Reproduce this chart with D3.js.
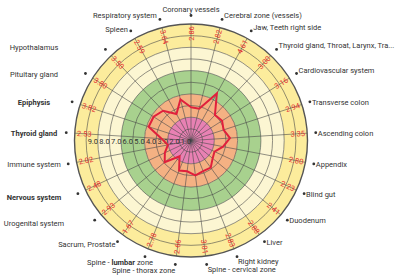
<!DOCTYPE html>
<html><head><meta charset="utf-8">
<script src="https://cdn.jsdelivr.net/npm/d3@7"></script>
<style>html,body{margin:0;padding:0;background:#fff;}svg{display:block;font-family:Roboto,"Noto Sans",sans-serif;}</style>
</head><body>
<svg id="c" width="400" height="280"></svg>
<script>
const categories = ["Coronary vessels","Cerebral zone (vessels)","Jaw, Teeth right side","Thyroid gland, Throat, Larynx, Tra...","Cardiovascular system","Transverse colon","Ascending colon","Appendix","Blind gut","Duodenum","Liver","Right kidney","Spine - cervical zone","Spine - thorax zone","Spine - lumbar zone","Sacrum, Prostate","Urogenital system","Nervous system","Immune system","Thyroid gland","Epiphysis","Pituitary gland","Hypothalamus","Spleen","Respiratory system"];
const values = [2.86,2.82,4.61,3.00,3.16,2.94,3.35,2.80,2.23,2.41,2.88,2.83,3.01,2.66,2.78,1.67,2.93,2.48,2.02,2.53,3.82,3.80,3.50,2.59,3.64];
const boldParts = ["","","","","","","","","","","","","","","lumbar","","","Nervous system","","Thyroid gland","Epiphysis","","","",""];
const tickValues = [1,2,3,4,5,6,7,8,9];
const bandStops = [0,2,4,6,8,10];
const bandColors = ["#e881b3","#f4b183","#a8d18e","#fcf6d2","#fcec9c"];

const cx = 191, cy = 140.5, R = 116.5, dotR = 125;
const svg = d3.select("#c");
const g = svg.append("g").attr("transform",`translate(${cx},${cy})`);
const r = d3.scaleLinear().domain([0,10]).range([0,R]);
const n = categories.length;
const ang = d3.scaleLinear().domain([0,n]).range([0,2*Math.PI]);

for (let i = bandColors.length-1; i >= 0; i--) {
  g.append("path").attr("d", d3.arc()({innerRadius:r(bandStops[i]), outerRadius:r(bandStops[i+1]), startAngle:0, endAngle:2*Math.PI}))
    .attr("fill", bandColors[i]);
}
d3.range(1,10).forEach(v=>{
  g.append("circle").attr("r", r(v)).attr("fill","none").attr("stroke","#4a4a4a").attr("stroke-width",0.6);
});
categories.forEach((c,i)=>{
  const a = ang(i);
  g.append("line").attr("x1",0).attr("y1",0)
    .attr("x2", r(10)*Math.sin(a)).attr("y2", -r(10)*Math.cos(a))
    .attr("stroke","#4a4a4a").attr("stroke-width",0.6);
});
g.append("circle").attr("r", r(10)).attr("fill","none").attr("stroke","#555").attr("stroke-width",1.4);

tickValues.forEach(v=>{
  g.append("text").attr("x", -r(v)+1.5).attr("y", 3.5).attr("font-size",7.5).attr("fill","#333")
    .attr("text-anchor","start").text(v.toFixed(1));
});

const line = d3.lineRadial().angle((d,i)=>ang(i)).radius(d=>r(d)).curve(d3.curveLinearClosed);
g.append("path").attr("d", line(values)).attr("fill","none").attr("stroke","#e0203c").attr("stroke-width",2).attr("stroke-linejoin","miter");

values.forEach((v,i)=>{
  const deg = i*360/n;
  const a = ang(i);
  const rr = 107;
  const x = rr*Math.sin(a), y = -rr*Math.cos(a);
  const rot = deg <= 180 ? deg-90 : deg-270;
  g.append("text").attr("transform",`translate(${x},${y}) rotate(${rot})`)
    .attr("text-anchor","middle").attr("dy","0.35em").attr("font-size",7.5).attr("fill","#e53030")
    .text(v.toFixed(2));
});

categories.forEach((c,i)=>{
  const a = ang(i);
  const x = dotR*Math.sin(a), y = -dotR*Math.cos(a);
  g.append("circle").attr("cx",x).attr("cy",y).attr("r",1.4).attr("fill","#333");
  let tx, ty, anchor;
  const deg = i*360/n;
  if (i === 0) { tx = x; ty = y-4; anchor = "middle"; }
  else if (deg < 60) { tx = x+2; ty = y-1; anchor = "start"; }
  else if (deg < 150) { tx = x+2; ty = y+3; anchor = "start"; }
  else if (deg < 180) { tx = x+1; ty = y+7; anchor = "start"; }
  else if (deg < 195) { tx = x; ty = y+8; anchor = "end"; }
  else if (deg < 225) { tx = x+8; ty = y+8; anchor = "end"; }
  else if (deg < 320) { tx = 34 - cx; ty = y+3 + (deg<250?3:0); anchor = "middle"; }
  else { tx = x-3; ty = y+ (deg<340?1:-1); anchor = "end"; }
  if (i === 15) { tx = x-2; ty = y+5; anchor = "end"; }
  if (i === 22) { ty = y+1; }
  const t = g.append("text").attr("x",tx).attr("y",ty).attr("text-anchor",anchor)
    .attr("font-size",7.5).attr("fill","#333");
  const b = boldParts[i];
  if (b && c.includes(b)) {
    const k = c.indexOf(b);
    if (k>0) t.append("tspan").text(c.slice(0,k));
    t.append("tspan").attr("font-weight",700).text(b);
    if (k+b.length < c.length) t.append("tspan").text(c.slice(k+b.length));
  } else t.text(c);
});
</script>
</body></html>
